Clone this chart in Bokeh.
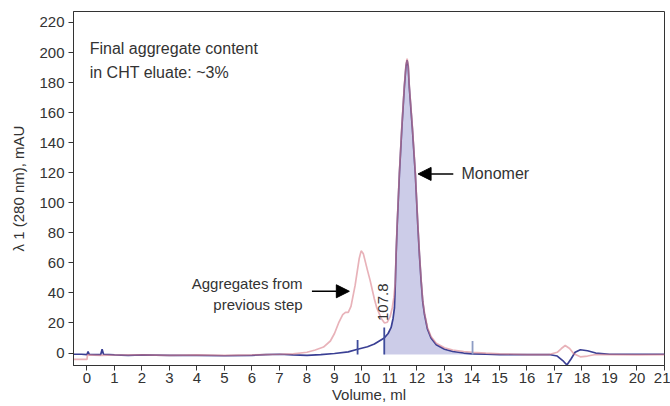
import math
from bokeh.plotting import figure
from bokeh.models import Range1d, FixedTicker, Label, Arrow, NormalHead
from bokeh.embed import file_html
from bokeh.resources import INLINE

# ---- data (volume in ml, absorbance in mAU) ----
blue_x = [-0.49, -0.2, 0.0, 0.04, 0.08, 0.3, 0.5, 0.55, 0.6, 1.0, 1.5, 2.0, 3.0, 4.0, 5.0, 6.0,
          6.5, 7.0, 7.5, 8.0, 8.5, 9.0, 9.5, 9.84, 10.2, 10.45, 10.81, 10.95, 11.06, 11.13, 11.18,
          11.21, 11.24, 11.28, 11.36, 11.45, 11.54, 11.6, 11.64, 11.68, 11.72, 11.83, 11.94, 12.03,
          12.09, 12.15, 12.21, 12.27, 12.38, 12.51, 12.7, 13.0, 13.3, 13.7, 14.02, 14.5, 15.0, 16.0,
          16.8, 17.1, 17.3, 17.45, 17.6, 17.75, 17.94, 18.2, 18.5, 19.0, 20.0, 21.0]
blue_y = [-0.8, -0.8, -1.0, 0.9, -0.9, -1.0, -1.0, 2.5, -0.8, -1.2, -1.5, -1.2, -1.6, -1.5, -1.8, -1.5,
          -1.0, -0.8, -1.2, -1.5, -1.0, -0.3, 0.8, 2.5, 4.2, 6.0, 10.0, 13.0, 17.0, 23.0, 30.0,
          45.0, 65.0, 85.0, 119.0, 150.0, 177.0, 191.0, 195.0, 191.0, 177.0, 150.0, 119.0, 85.0,
          65.0, 48.0, 34.0, 26.0, 16.0, 10.0, 5.5, 2.5, 1.0, 0.0, -0.5, -0.8, -1.0, -1.0,
          -1.0, -2.0, -5.0, -8.0, -4.0, 0.5, 2.2, 1.5, 0.0, -0.8, -0.8, -0.8]

pink_x = [-0.49, 0.0, 0.02, 0.5, 1.0, 2.0, 3.0, 4.0, 5.0, 6.0, 7.0, 7.5, 8.0, 8.3, 8.6, 8.85, 9.0,
          9.15, 9.3, 9.4, 9.5, 9.6, 9.75, 9.9, 9.97, 10.05, 10.2, 10.3, 10.45, 10.54, 10.7, 10.82,
          10.92, 11.02, 11.1, 11.16, 11.21, 11.24, 11.28, 11.36, 11.45, 11.54, 11.6, 11.64, 11.68,
          11.72, 11.83, 11.94, 12.03, 12.09, 12.15, 12.21, 12.27, 12.38, 12.51, 12.7, 13.0, 13.3,
          13.7, 14.02, 14.5, 15.0, 16.0, 16.8, 17.1, 17.25, 17.39, 17.55, 17.7, 17.94, 18.2, 18.5,
          19.0, 20.0, 21.0]
pink_y = [-4.2, -4.2, -1.2, -1.5, -1.3, -1.2, -1.5, -1.2, -1.5, -1.2, -0.8, -0.5, 0.5, 2.0, 4.0, 8.0, 13.0,
          20.0, 25.5, 27.0, 27.0, 31.0, 45.0, 63.0, 68.0, 66.0, 55.0, 48.0, 36.0, 30.0, 23.0, 20.0,
          20.5, 24.0, 30.0, 37.0, 47.0, 66.0, 86.0, 120.0, 151.0, 178.0, 192.0, 196.0, 192.0,
          178.0, 151.0, 120.0, 86.0, 66.0, 49.0, 35.0, 27.0, 17.0, 11.0, 6.5, 3.5, 2.0,
          1.0, 0.5, 0.0, -0.5, -1.0, -1.0, 0.5, 3.0, 5.0, 3.0, -0.5, -2.5, -2.0, -1.0,
          -1.0, -1.2, -1.0]

marker_x = [9.84, 10.81, 14.02]
marker_top = [8.7, 17.0, 8.0]
marker_colors = ["#3f4c9c", "#3f4c9c", "#8d9cc4"]
fill_start, fill_end = 10.81, 14.02

x_ticks = list(range(0, 22))
y_ticks = list(range(0, 221, 20))

FONT = "Liberation Sans"
TXT = "#333333"

p = figure(width=670, height=406, output_backend="svg", toolbar_location=None,
           x_range=Range1d(-0.49, 21.0), y_range=Range1d(-8.3, 227.3),
           min_border_left=73, min_border_right=6, min_border_top=11, min_border_bottom=41)
p.background_fill_color = "white"
p.border_fill_color = "white"
p.outline_line_color = "#333333"
p.outline_line_width = 1
p.xgrid.visible = False
p.ygrid.visible = False

for ax in (p.xaxis[0], p.yaxis[0]):
    ax.axis_line_color = "#333333"
    ax.major_tick_line_color = "#333333"
    ax.major_tick_in = 0
    ax.major_tick_out = 5
    ax.minor_tick_line_color = None
    ax.major_label_text_font = FONT
    ax.major_label_text_font_size = "15px"
    ax.major_label_text_color = TXT
    ax.axis_label_text_font = FONT
    ax.axis_label_text_font_size = "15px"
    ax.axis_label_text_font_style = "normal"
    ax.axis_label_text_color = TXT
p.xaxis.ticker = FixedTicker(ticks=x_ticks)
p.yaxis.ticker = FixedTicker(ticks=y_ticks)
p.xaxis.major_label_standoff = 2
p.yaxis.major_label_standoff = 4
p.xaxis.axis_label = "Volume, ml"
p.xaxis.axis_label_standoff = 0
p.yaxis.axis_label = "λ 1 (280 nm), mAU"
p.yaxis.axis_label_standoff = 9

# filled monomer peak
fx = [x for x in blue_x if fill_start <= x <= fill_end]
fy = [y for x, y in zip(blue_x, blue_y) if fill_start <= x <= fill_end]
p.varea(x=fx, y1=[-1.0] * len(fx), y2=fy, fill_color="#c6c6e6", fill_alpha=0.9)

# curves
p.line(blue_x, blue_y, line_color="#3a3f94", line_width=1.7)
p.line(pink_x, pink_y, line_color="#d97f8a", line_alpha=0.6, line_width=1.7)

# peak-cut markers
p.segment(x0=marker_x, y0=[-1.0] * len(marker_x), x1=marker_x, y1=marker_top,
          line_color=marker_colors, line_width=1.8)

# annotations
def lab(x, y, text, size="16px", align="left", baseline="middle", angle=0.0):
    p.add_layout(Label(x=x, y=y, text=text, text_font=FONT, text_font_size=size,
                       text_color=TXT, text_align=align, text_baseline=baseline, angle=angle))

lab(0.1, 202.6, "Final aggregate content")
lab(0.1, 186.6, "in CHT eluate: ~3%")
lab(13.62, 119.2, "Monomer")
lab(7.84, 46.0, "Aggregates from", size="15px", align="right")
lab(7.84, 32.2, "previous step", size="15px", align="right")
lab(10.75, 33.8, "107.8", size="15px", align="center", angle=math.pi / 2)

p.add_layout(Arrow(end=NormalHead(size=13, fill_color="black", line_color="black"),
                   x_start=13.32, y_start=119.2, x_end=12.04, y_end=119.2,
                   line_color="black", line_width=1.4))
p.add_layout(Arrow(end=NormalHead(size=13, fill_color="black", line_color="black"),
                   x_start=8.18, y_start=41.1, x_end=9.54, y_end=41.1,
                   line_color="black", line_width=1.4))

open("out.html", "w").write(file_html(p, INLINE))
